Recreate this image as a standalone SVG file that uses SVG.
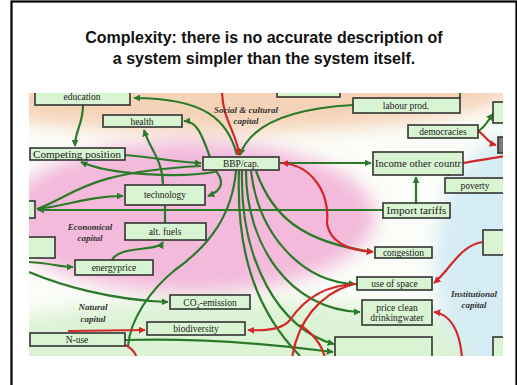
<svg xmlns="http://www.w3.org/2000/svg" width="517" height="385" viewBox="0 0 517 385">
<style>
.title{font-family:"Liberation Sans",Arial,sans-serif;font-weight:bold;font-size:16px;fill:#111;text-anchor:middle}
.box rect{fill:#d9f4d2;stroke:#333;stroke-width:1.6}
.box text{font-family:"Liberation Serif","Times New Roman",serif;font-size:9.5px;fill:#1a1a1a;text-anchor:middle}
.lbl{font-family:"Liberation Serif","Times New Roman",serif;font-size:9px;font-style:italic;font-weight:bold;fill:#333;text-anchor:middle}
.g{fill:none;stroke:#2a7a2a;stroke-width:2.2}
.r{fill:none;stroke:#d42828;stroke-width:2.2}
</style>
<defs>
<clipPath id="pic"><rect x="29" y="93" width="474" height="263"/></clipPath>
<filter id="blur" x="-20%" y="-20%" width="140%" height="140%"><feGaussianBlur stdDeviation="9"/></filter>
<marker id="ag" viewBox="0 0 10 10" refX="9" refY="5" markerWidth="7" markerHeight="7" markerUnits="userSpaceOnUse" orient="auto"><path d="M0,0 L10,5 L0,10 z" fill="#2a7a2a"/></marker>
<marker id="ar" viewBox="0 0 10 10" refX="9" refY="5" markerWidth="7" markerHeight="7" markerUnits="userSpaceOnUse" orient="auto"><path d="M0,0 L10,5 L0,10 z" fill="#d42828"/></marker>
</defs>
<rect x="0" y="0" width="517" height="385" fill="#fff"/>
<rect x="11.5" y="1.5" width="505" height="400" fill="none" stroke="#000" stroke-width="2.2"/>
<text class="title" x="264" y="43">Complexity: there is no accurate description of</text>
<text class="title" x="264" y="64">a system simpler than the system itself.</text>

<g id="picture" clip-path="url(#pic)">
<rect x="29" y="93" width="474" height="263" fill="#fbfdf8"/>
<g id="background" filter="url(#blur)">
<ellipse cx="220" cy="84" rx="300" ry="48" fill="#f5d3b8"/>
<ellipse cx="190" cy="217" rx="185" ry="76" fill="#f3badb"/>
<ellipse cx="230" cy="370" rx="320" ry="70" fill="#dcf3d5"/>
<ellipse cx="530" cy="260" rx="95" ry="130" fill="#d6ecf4"/>
</g>

<g id="connectors">
<path class="g" d="M237,155 C228,120 205,98 134,98" marker-end="url(#ag)"/>
<path class="g" d="M353,105 C300,108 252,120 240,155" marker-end="url(#ag)"/>
<path class="g" d="M210,157 C202,135 197,121 184,121" marker-end="url(#ag)"/>
<path class="g" d="M163,185 C163,160 150,150 144,130" marker-end="url(#ag)"/>
<path class="g" d="M83,105 C83,125 75,130 75,146" marker-end="url(#ag)"/>
<path class="g" d="M125,155 C160,158 180,163 201,163" marker-end="url(#ag)"/>
<path class="g" d="M215,172 C180,178 110,175 81,162" marker-end="url(#ag)"/>
<path class="g" d="M37,209 C70,205 90,196 123,196" marker-end="url(#ag)"/>
<path class="g" d="M37,209 C75,195 85,172 201,166"/>
<path class="g" d="M383,210 L38,210" marker-end="url(#ag)"/>
<path class="g" d="M215,170 C224,180 224,190 208,196" marker-end="url(#ag)"/>
<path class="g" d="M280,163 L371,163" marker-end="url(#ag)"/>
<path class="g" d="M416,203 L416,177" marker-end="url(#ag)"/>
<path class="g" d="M460,98 L460,88"/>
<path class="g" d="M478,131 C485,128 488,120 493,114" marker-end="url(#ag)"/>
<path class="g" d="M165,205 L165,223"/>
<path class="g" d="M112,260 C120,245 158,252 163,242" marker-end="url(#ag)"/>
<path class="g" d="M29,262 C50,263 60,267 73,267" marker-end="url(#ag)"/>
<path class="g" d="M29,272 C60,285 110,300 168,302" marker-end="url(#ag)"/>
<path class="g" d="M236,171 C232,215 210,245 175,270 C150,290 130,320 128,346"/>
<path class="g" d="M125,340 C200,338 280,345 333,352" marker-end="url(#ag)"/>
<path class="g" d="M256,171 C272,215 300,242 373,252" marker-end="url(#ag)"/>
<path class="g" d="M251,171 C258,232 300,282 355,284" marker-end="url(#ag)"/>
<path class="g" d="M246,171 C246,245 290,310 360,312" marker-end="url(#ag)"/>
<path class="g" d="M242,171 C240,262 280,330 334,344" marker-end="url(#ag)"/>
<path class="g" d="M239,171 C236,250 255,310 300,356"/>
<path class="r" d="M222,90 C222,120 238,135 239,155" marker-end="url(#ar)"/>
<path class="r" d="M327,224 C330,190 310,165 282,163" marker-end="url(#ar)"/>
<path class="r" d="M327,224 C330,240 345,250 373,252" marker-end="url(#ar)"/>
<path class="r" d="M483,242 C460,245 450,270 434,283" marker-end="url(#ar)"/>
<path class="r" d="M462,358 C460,330 450,314 434,312" marker-end="url(#ar)"/>
<path class="r" d="M357,284 C320,285 300,305 290,320 C282,330 265,331 248,330" marker-end="url(#ar)"/>
<path class="r" d="M350,285 C320,295 298,320 292,358"/>
<path class="r" d="M300,325 C315,335 322,345 325,358"/>
<path class="r" d="M68,331 L145,330" marker-end="url(#ar)" stroke-width="3"/>
<path class="r" d="M125,345 C132,348 135,352 137,358"/>
<path class="r" d="M463,164 C455,168 450,170 448,176" marker-end="url(#ar)"/>
<path class="r" d="M463,163 C480,160 495,158 505,156"/>
<path class="r" d="M478,131 C485,135 488,143 496,145" marker-end="url(#ar)"/>
</g>

<g id="n-education" class="box"><rect x="35" y="86" width="95" height="19"/><text x="82" y="100">education</text></g>
<g id="n-health" class="box"><rect x="103" y="115" width="79" height="12"/><text x="142" y="124.5">health</text></g>
<g id="n-competing" class="box"><rect x="30" y="148" width="95" height="12"/><text x="77" y="157.5" textLength="88" lengthAdjust="spacingAndGlyphs">Competing position</text></g>
<g id="n-technology" class="box"><rect x="125" y="185" width="80" height="20"/><text x="165" y="198">technology</text></g>
<g id="n-leftA" class="box"><rect x="24" y="201" width="11" height="17"/></g>
<g id="n-bbp" class="box"><rect x="203" y="157" width="76" height="13"/><text x="241" y="167">BBP/cap.</text></g>
<g id="n-topbox" class="box"><rect x="277" y="84" width="63" height="13"/></g>
<g id="n-labour" class="box"><rect x="353" y="98" width="107" height="15"/><text x="406" y="109">labour prod.</text></g>
<g id="n-rightTop" class="box"><rect x="493" y="102" width="15" height="21"/></g>
<g id="n-democracies" class="box"><rect x="408" y="125" width="70" height="13"/><text x="443" y="135">democracies</text></g>
<g id="n-gray" class="box"><rect x="498" y="137" width="10" height="16" style="fill:#7a7a7a"/></g>
<g id="n-income" class="box"><rect x="373" y="152" width="90" height="23"/><text x="418" y="166.5" textLength="86" lengthAdjust="spacingAndGlyphs">Income other countr</text></g>
<g id="n-poverty" class="box"><rect x="445" y="178" width="62" height="15"/><text x="475" y="189">poverty</text></g>
<g id="n-import" class="box"><rect x="383" y="203" width="67" height="15"/><text x="416.5" y="214" textLength="60" lengthAdjust="spacingAndGlyphs">Import tariffs</text></g>
<g id="n-altfuels" class="box"><rect x="125" y="223" width="81" height="17"/><text x="165" y="235">alt. fuels</text></g>
<g id="n-leftB" class="box"><rect x="24" y="237" width="31" height="21"/></g>
<g id="n-energyprice" class="box"><rect x="75" y="260" width="78" height="15"/><text x="114" y="271">energyprice</text></g>
<g id="n-co2" class="box"><rect x="170" y="295" width="80" height="14"/><text x="210" y="305.5">CO<tspan font-size="6.5" dy="2">2</tspan><tspan dy="-2">-emission</tspan></text></g>
<g id="n-biodiversity" class="box"><rect x="147" y="322" width="98" height="13"/><text x="196" y="332">biodiversity</text></g>
<g id="n-nuse" class="box"><rect x="30" y="333" width="95" height="13"/><text x="77" y="343">N-use</text></g>
<g id="n-rightMid" class="box"><rect x="483" y="230" width="25" height="25"/></g>
<g id="n-congestion" class="box"><rect x="375" y="247" width="57" height="11"/><text x="403.5" y="255.5">congestion</text></g>
<g id="n-usespace" class="box"><rect x="357" y="277" width="75" height="13"/><text x="394.5" y="287">use of space</text></g>
<g id="n-water" class="box"><rect x="362" y="300" width="70" height="25"/><text x="397" y="311">price clean</text><text x="397" y="321">drinkingwater</text></g>
<g id="n-bottom" class="box"><rect x="335" y="337" width="97" height="25"/></g>
<g id="n-bottomRight" class="box"><rect x="493" y="337" width="15" height="25"/></g>

<g id="labels">
<text class="lbl" x="246" y="113">Social &amp; cultural</text>
<text class="lbl" x="246" y="124">capital</text>
<text class="lbl" x="90" y="230">Economical</text>
<text class="lbl" x="90" y="241">capital</text>
<text class="lbl" x="93" y="310">Natural</text>
<text class="lbl" x="93" y="322">capital</text>
<text class="lbl" x="474" y="297">Institutional</text>
<text class="lbl" x="474" y="308">capital</text>
</g>
</g>
</svg>
